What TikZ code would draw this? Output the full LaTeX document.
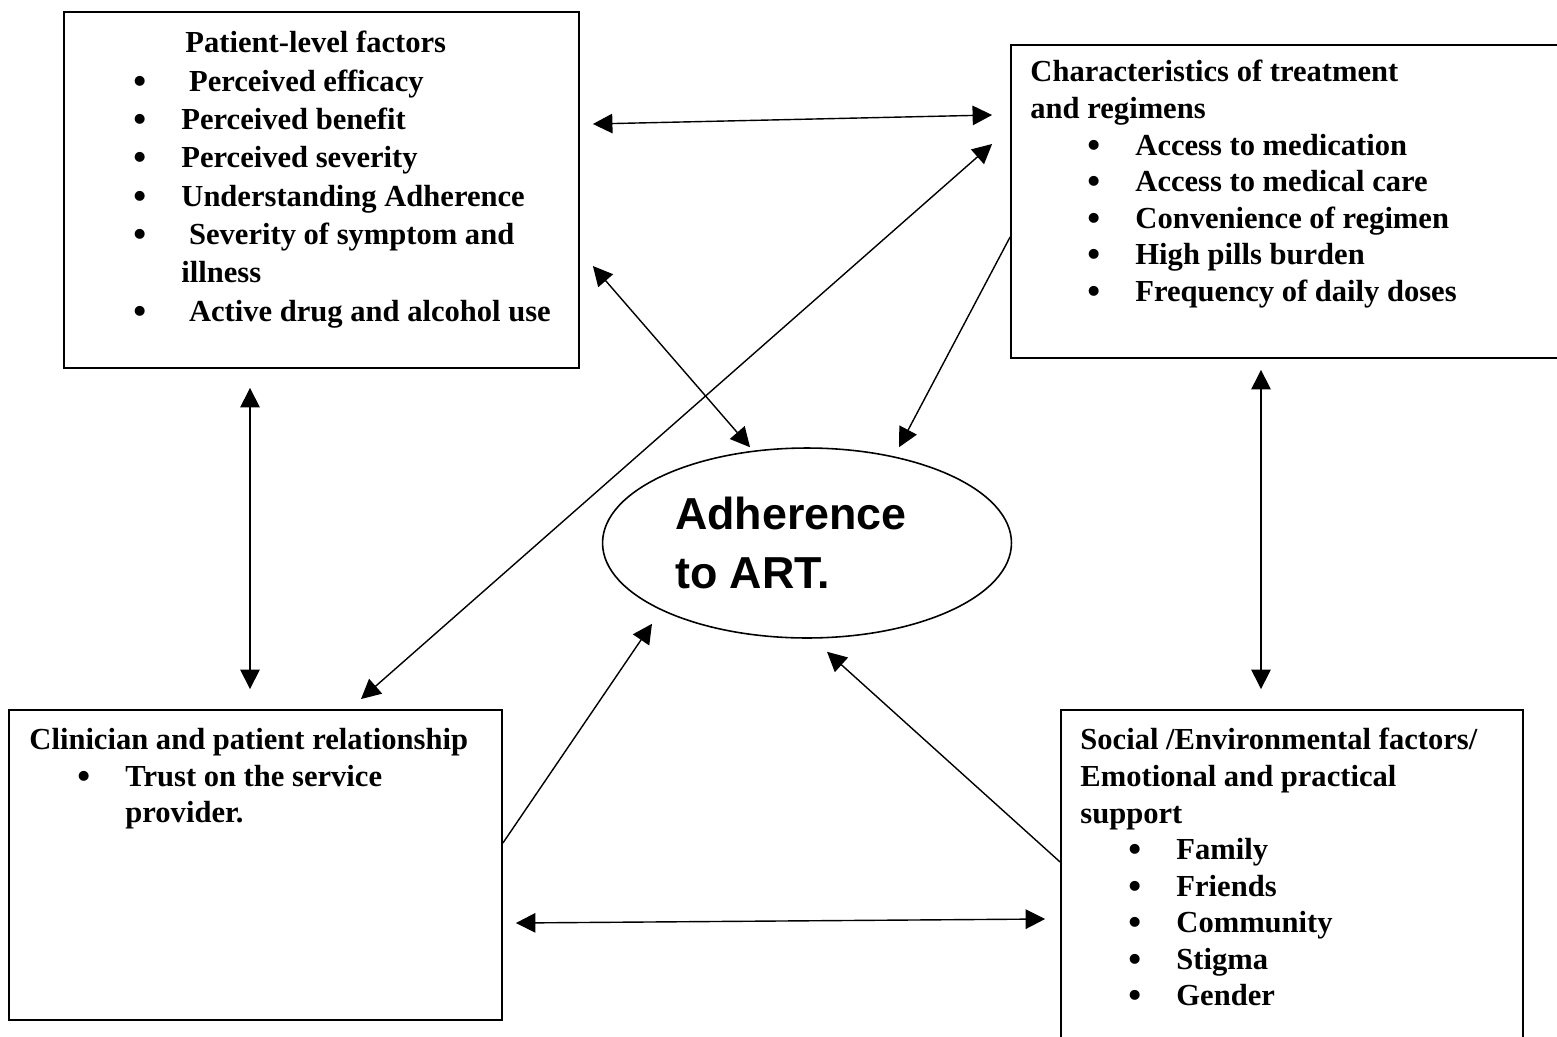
\documentclass[tikz,border=0pt]{standalone}
\usepackage{fontspec}
\setmainfont{Liberation Serif}
\newfontfamily\artfont{Liberation Sans}
\usetikzlibrary{arrows.meta,positioning,calc,shapes.geometric}
\newcommand{\bitem}[2][0pt]{\hspace*{#1}\makebox[0.96cm][l]{\smash{\raisebox{-0.07em}{\scalebox{1.2}{\textbullet}}}}#2}

\begin{document}
\begin{tikzpicture}[x=0.02cm,y=0.02cm,
  factor/.style={draw,line width=1.1pt,inner sep=0pt},
  factortext/.style={anchor=north west,align=left,inner sep=0pt},
  goal/.style={ellipse,draw,line width=0.9pt,inner sep=0pt,minimum width=8.18cm,minimum height=3.8cm,align=left,font={\artfont\bfseries\fontsize{25.5}{34}\selectfont}},
  link/.style={{Triangle[length=3.9mm,width=3.9mm]}-{Triangle[length=3.9mm,width=3.9mm]},line width=0.8pt},
  feed/.style={-{Triangle[length=3.9mm,width=3.9mm]},line width=0.8pt}]
\useasboundingbox (0,0) rectangle (1557,1036);
\clip (0,0) rectangle (1557,1036);
% boxes
\node[factor,minimum width=10.3cm,minimum height=7.12cm] (patient) at (321.5,846) {};
\node[factor,minimum width=11.08cm,minimum height=6.26cm] (treatment) at (1288,834.5) {};
\node[factor,minimum width=9.86cm,minimum height=6.2cm] (clinician) at (255.5,171) {};
\node[factor,minimum width=9.24cm,minimum height=6.8cm] (social) at (1292,156) {};
\node[goal] (art) at (807,493) {Adherence\hspace*{0.64cm}\\to ART.};
% box texts
\node[factortext,font=\fontsize{17.4}{21.8}\selectfont\bfseries] (patienttext) at ($(patient.north west)+(70,-20)$) {%
  \hspace*{1.04cm}Patient-level factors\\
  \bitem{\ Perceived efficacy}\\
  \bitem{Perceived benefit}\\
  \bitem{Perceived severity}\\
  \bitem{Understanding Adherence}\\
  \bitem{\ Severity of symptom and}\\
  \hspace*{0.96cm}illness\\
  \bitem{\ Active drug and alcohol use}};
\node[factortext,font=\fontsize{17.4}{20.8}\selectfont\bfseries] (treatmenttext) at ($(treatment.north west)+(20,-16)$) {%
  Characteristics of treatment\\
  and regimens\\
  \bitem[1.14cm]{Access to medication}\\
  \bitem[1.14cm]{Access to medical care}\\
  \bitem[1.14cm]{Convenience of regimen}\\
  \bitem[1.14cm]{High pills burden}\\
  \bitem[1.14cm]{Frequency of daily doses}};
\node[factortext,font=\fontsize{17.4}{20.8}\selectfont\bfseries] (cliniciantext) at ($(clinician.north west)+(21,-19)$) {%
  Clinician and patient relationship\\
  \bitem[0.96cm]{Trust on the service}\\
  \hspace*{1.92cm}provider.};
\node[factortext,font=\fontsize{17.4}{20.8}\selectfont\bfseries] (socialtext) at ($(social.north west)+(20,-19)$) {%
  Social /Environmental factors/\\
  Emotional and practical\\
  support\\
  \bitem[0.96cm]{Family}\\
  \bitem[0.96cm]{Friends}\\
  \bitem[0.96cm]{Community}\\
  \bitem[0.96cm]{Stigma}\\
  \bitem[0.96cm]{Gender}};
% links
\draw[link] ($(patient.east)+(13,66)$) -- ($(treatment.west)+(-18,86.5)$);
\draw[link] ($(treatment.west)+(-18,57.5)$) -- ($(clinician.north)+(105.5,10)$);
\draw[link] ($(patient.east)+(13,-76)$) -- ($(art.north)+(-57,0)$);
\draw[feed] ($(treatment.west)+(0,-35.5)$) -- ($(art.north)+(92,0)$);
\draw[link] ($(patient.south)+(-71.5,-19)$) -- ($(clinician.north)+(-5.5,20)$);
\draw[link] ($(treatment.south)+(-27,-11)$) -- ($(social.north)+(-31,20)$);
\draw[feed] ($(clinician.east)+(0,22)$) -- ($(art.south)+(-155,15)$);
\draw[feed] ($(social.west)+(0,18)$) -- ($(art.south)+(20,-13)$);
\draw[link] ($(clinician.east)+(13,-58)$) -- ($(social.west)+(-15,-39)$);
\end{tikzpicture}
\end{document}
